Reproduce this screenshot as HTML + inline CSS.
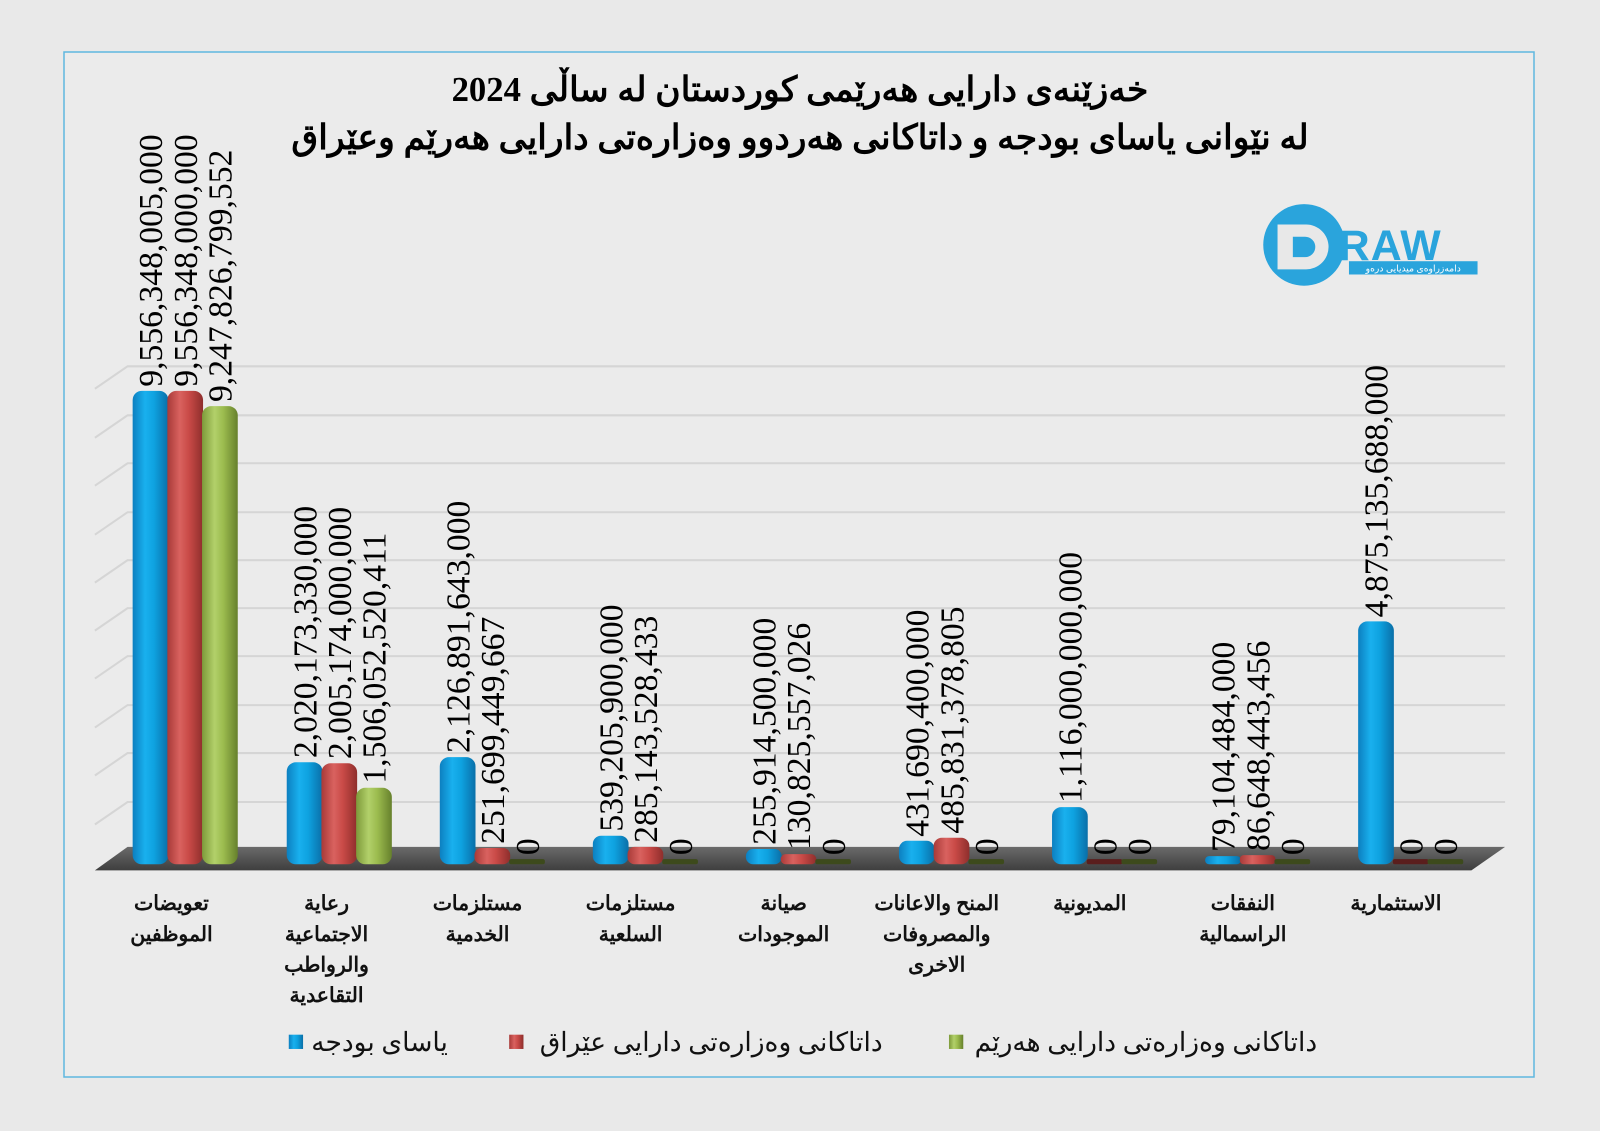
<!DOCTYPE html>
<html><head><meta charset="utf-8"><style>
html,body{margin:0;padding:0;background:#e9e9e9;}
svg{display:block}
</style></head><body>
<svg width="1600" height="1131" viewBox="0 0 1600 1131" xmlns="http://www.w3.org/2000/svg">
<defs>
<linearGradient id="gb" x1="0" x2="1" y1="0" y2="0"><stop offset="0" stop-color="#0c7fc0"/><stop offset="0.35" stop-color="#19b0ee"/><stop offset="0.6" stop-color="#0ea2e0"/><stop offset="1" stop-color="#0a6fa8"/></linearGradient>
<linearGradient id="gr" x1="0" x2="1" y1="0" y2="0"><stop offset="0" stop-color="#a83a38"/><stop offset="0.35" stop-color="#d9625f"/><stop offset="0.6" stop-color="#c94a47"/><stop offset="1" stop-color="#8e2e2c"/></linearGradient>
<linearGradient id="gg" x1="0" x2="1" y1="0" y2="0"><stop offset="0" stop-color="#7d9a3a"/><stop offset="0.35" stop-color="#b2d06a"/><stop offset="0.6" stop-color="#9bbb4e"/><stop offset="1" stop-color="#66802c"/></linearGradient>
<linearGradient id="fl" x1="0" x2="0" y1="0" y2="1"><stop offset="0" stop-color="#6a6a6a"/><stop offset="1" stop-color="#3e3e3e"/></linearGradient>
</defs>
<rect x="0" y="0" width="1600" height="1131" fill="#e9e9e9"/>
<rect x="64" y="52" width="1470" height="1025" fill="#ebebeb" stroke="#5fb7df" stroke-width="1.5"/>
<g transform="scale(1.0204)">
<g font-family="'Liberation Serif','DejaVu Serif',serif" font-weight="bold" font-size="34" text-anchor="middle" fill="#000">
<text x="784" y="99" direction="rtl">خەزێنەی دارایی هەرێمی کوردستان لە ساڵی 2024</text>
<text x="784" y="146" direction="rtl">لە نێوانی یاسای بودجە و داتاکانی هەردوو وەزارەتی دارایی هەرێم  وعێراق</text>
</g>
<!-- logo -->
<circle cx="1278" cy="240" r="40" fill="#2aa4dc"/>
<path d="M1252 220 h28 a22 22 0 0 1 0 44 h-28 z M1267 232 v20 h12 a10 10 0 0 0 0 -20z" fill="#e8e8e8" fill-rule="evenodd"/>
<text x="1312" y="255" font-family="'Liberation Sans',sans-serif" font-weight="bold" font-size="42" fill="#2aa4dc" letter-spacing="1">RAW</text>
<rect x="1322" y="256" width="126" height="13" fill="#2aa4dc"/>
<text x="1385" y="266" font-family="'Liberation Sans','DejaVu Sans',sans-serif" font-size="9" fill="#fff" text-anchor="middle">دامەزراوەی میدیایی درەو</text>
<!-- grid -->
<g stroke="#d5d5d5" stroke-width="2" fill="none">
<polyline points="93,381 125,359 1475,359"/>
<polyline points="93,429 125,407 1475,407"/>
<polyline points="93,476 125,454 1475,454"/>
<polyline points="93,524 125,502 1475,502"/>
<polyline points="93,571 125,549 1475,549"/>
<polyline points="93,618 125,596 1475,596"/>
<polyline points="93,665 125,643 1475,643"/>
<polyline points="93,713 125,691 1475,691"/>
<polyline points="93,760 125,738 1475,738"/>
<polyline points="93,808 125,786 1475,786"/>
</g>
<polygon points="125,830 1475,830 1442,853 93,853" fill="url(#fl)"/>
<!-- bars -->
<g>
<rect x="130" y="383" width="35" height="464" rx="9" fill="url(#gb)"/>
<rect x="164" y="383" width="35" height="464" rx="9" fill="url(#gr)"/>
<rect x="198" y="398" width="35" height="449" rx="9" fill="url(#gg)"/>
<rect x="281" y="747" width="35" height="100" rx="9" fill="url(#gb)"/>
<rect x="315" y="748" width="35" height="99" rx="9" fill="url(#gr)"/>
<rect x="349" y="772" width="35" height="75" rx="9" fill="url(#gg)"/>
<rect x="431" y="742" width="35" height="105" rx="9" fill="url(#gb)"/>
<rect x="465" y="831" width="35" height="16" rx="7" fill="url(#gr)"/>
<rect x="499" y="842" width="35" height="5" rx="2" fill="#3d4a1c"/>
<rect x="581" y="819" width="35" height="28" rx="8" fill="url(#gb)"/>
<rect x="615" y="830" width="35" height="17" rx="7" fill="url(#gr)"/>
<rect x="649" y="842" width="35" height="5" rx="2" fill="#3d4a1c"/>
<rect x="731" y="832" width="35" height="15" rx="7" fill="url(#gb)"/>
<rect x="765" y="837" width="35" height="10" rx="5" fill="url(#gr)"/>
<rect x="799" y="842" width="35" height="5" rx="2" fill="#3d4a1c"/>
<rect x="881" y="824" width="35" height="23" rx="8" fill="url(#gb)"/>
<rect x="915" y="821" width="35" height="26" rx="8" fill="url(#gr)"/>
<rect x="949" y="842" width="35" height="5" rx="2" fill="#3d4a1c"/>
<rect x="1031" y="791" width="35" height="56" rx="9" fill="url(#gb)"/>
<rect x="1065" y="842" width="35" height="5" rx="2" fill="#5a1e1d"/>
<rect x="1099" y="842" width="35" height="5" rx="2" fill="#3d4a1c"/>
<rect x="1181" y="839" width="35" height="8" rx="4" fill="url(#gb)"/>
<rect x="1215" y="838" width="35" height="9" rx="4" fill="url(#gr)"/>
<rect x="1249" y="842" width="35" height="5" rx="2" fill="#3d4a1c"/>
<rect x="1331" y="609" width="35" height="238" rx="9" fill="url(#gb)"/>
<rect x="1365" y="842" width="35" height="5" rx="2" fill="#5a1e1d"/>
<rect x="1399" y="842" width="35" height="5" rx="2" fill="#3d4a1c"/>
</g>
<!-- value labels -->
<g font-family="'Liberation Serif','DejaVu Serif',serif" font-size="33" fill="#000">
<text transform="translate(159,379) rotate(-90)">9,556,348,005,000</text>
<text transform="translate(193,379) rotate(-90)">9,556,348,000,000</text>
<text transform="translate(227,394) rotate(-90)">9,247,826,799,552</text>
<text transform="translate(310,743) rotate(-90)">2,020,173,330,000</text>
<text transform="translate(344,744) rotate(-90)">2,005,174,000,000</text>
<text transform="translate(378,768) rotate(-90)">1,506,052,520,411</text>
<text transform="translate(460,738) rotate(-90)">2,126,891,643,000</text>
<text transform="translate(494,827) rotate(-90)">251,699,449,667</text>
<text transform="translate(528,838) rotate(-90)">0</text>
<text transform="translate(610,815) rotate(-90)">539,205,900,000</text>
<text transform="translate(644,826) rotate(-90)">285,143,528,433</text>
<text transform="translate(678,838) rotate(-90)">0</text>
<text transform="translate(760,828) rotate(-90)">255,914,500,000</text>
<text transform="translate(794,833) rotate(-90)">130,825,557,026</text>
<text transform="translate(828,838) rotate(-90)">0</text>
<text transform="translate(910,820) rotate(-90)">431,690,400,000</text>
<text transform="translate(944,817) rotate(-90)">485,831,378,805</text>
<text transform="translate(978,838) rotate(-90)">0</text>
<text transform="translate(1060,787) rotate(-90)">1,116,000,000,000</text>
<text transform="translate(1094,838) rotate(-90)">0</text>
<text transform="translate(1128,838) rotate(-90)">0</text>
<text transform="translate(1210,835) rotate(-90)">79,104,484,000</text>
<text transform="translate(1244,834) rotate(-90)">86,648,443,456</text>
<text transform="translate(1278,838) rotate(-90)">0</text>
<text transform="translate(1360,605) rotate(-90)">4,875,135,688,000</text>
<text transform="translate(1394,838) rotate(-90)">0</text>
<text transform="translate(1428,838) rotate(-90)">0</text>
</g>
<!-- category labels -->
<g font-family="'Liberation Serif','DejaVu Serif',serif" font-weight="bold" font-size="20" text-anchor="middle" fill="#111">
<text x="168" y="892" direction="rtl">تعویضات</text>
<text x="168" y="922" direction="rtl">الموظفین</text>
<text x="320" y="892" direction="rtl">رعایة</text>
<text x="320" y="922" direction="rtl">الاجتماعیة</text>
<text x="320" y="952" direction="rtl">والرواطب</text>
<text x="320" y="982" direction="rtl">التقاعدیة</text>
<text x="468" y="892" direction="rtl">مستلزمات</text>
<text x="468" y="922" direction="rtl">الخدمیة</text>
<text x="618" y="892" direction="rtl">مستلزمات</text>
<text x="618" y="922" direction="rtl">السلعیة</text>
<text x="768" y="892" direction="rtl">صیانة</text>
<text x="768" y="922" direction="rtl">الموجودات</text>
<text x="918" y="892" direction="rtl">المنح والاعانات</text>
<text x="918" y="922" direction="rtl">والمصروفات</text>
<text x="918" y="952" direction="rtl">الاخرى</text>
<text x="1068" y="892" direction="rtl">المدیونیة</text>
<text x="1218" y="892" direction="rtl">النفقات</text>
<text x="1218" y="922" direction="rtl">الراسمالیة</text>
<text x="1368" y="892" direction="rtl">الاستثماریة</text>
</g>
<!-- legend -->
<rect x="283" y="1014" width="14" height="14" fill="url(#gb)"/>
<rect x="499" y="1014" width="14" height="14" fill="url(#gr)"/>
<rect x="930" y="1014" width="14" height="14" fill="url(#gg)"/>
<g font-family="'Liberation Serif','DejaVu Serif',serif" font-size="26" fill="#111" text-anchor="middle">
<text x="372" y="1030" direction="rtl">یاسای بودجە</text>
<text x="697" y="1030" direction="rtl">داتاکانی وەزارەتی دارایی عێراق</text>
<text x="1123" y="1030" direction="rtl">داتاکانی وەزارەتی دارایی هەرێم</text>
</g>
</g>
</svg>
</body></html>
